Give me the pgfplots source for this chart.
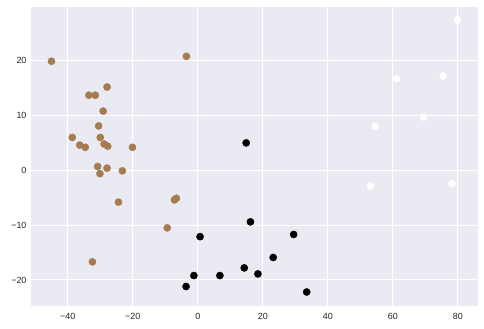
\documentclass[border=0pt]{standalone}
\usepackage{fontspec}
\setmainfont{Liberation Sans}
\usepackage{pgfplots}
\pgfplotsset{compat=1.18}
\definecolor{bgc}{HTML}{EAEAF2}
\definecolor{brownc}{RGB}{166,123,79}
\definecolor{tickc}{HTML}{262626}
\begin{document}
\begin{tikzpicture}
\useasboundingbox (-31bp,-23.3bp) rectangle (453bp,305.7bp);
\begin{axis}[
  scale only axis,
  width=447bp, height=298.7bp,
  xmin=-51.3, xmax=86.2, ymin=-24.7, ymax=29.8,
  axis background/.style={fill=bgc},
  axis line style={draw=none},
  major tick length=0pt,
  grid=major,
  major grid style={white, line width=0.9bp},
  xtick={-40,-20,0,20,40,60,80},
  xticklabels={−40,−20,0,20,40,60,80},
  ytick={-20,-10,0,10,20},
  yticklabels={−20,−10,0,10,20},
  tick label style={font=\fontsize{9}{10}\selectfont, text=tickc},
  xticklabel style={yshift=-4bp},
  yticklabel style={xshift=-1bp},
  clip=false,
]
\addplot[only marks, mark=*, mark size=3.6bp, mark options={fill=brownc, draw=brownc}] coordinates {
(-45.0,19.9) (-3.5,20.8) (-33.5,13.7) (-31.5,13.7) (-27.9,15.2) (-29.1,10.8)
(-30.5,8.1) (-38.6,6.0) (-30.0,6.0) (-36.3,4.6) (-34.6,4.2) (-28.8,4.8)
(-27.7,4.4) (-20.1,4.2) (-30.8,0.7) (-27.9,0.4) (-30.1,-0.6) (-23.2,-0.1)
(-24.4,-5.8) (-7.2,-5.4) (-6.6,-5.1) (-9.4,-10.5) (-32.4,-16.7)
};
\addplot[only marks, mark=*, mark size=3.6bp, mark options={fill=black, draw=black}] coordinates {
(0.7,-12.1) (-1.2,-19.2) (-3.6,-21.2) (6.8,-19.2) (14.3,-17.8) (16.2,-9.4)
(29.5,-11.7) (23.2,-15.9) (18.5,-18.9) (33.5,-22.2) (14.9,5.0)
};
\addplot[only marks, mark=*, mark size=3.6bp, mark options={fill=white, draw=white}] coordinates {
(79.9,27.4) (61.2,16.7) (75.5,17.2) (69.5,9.7) (54.6,8.0) (53.1,-2.9) (78.2,-2.4)
};
\end{axis}
\end{tikzpicture}
\end{document}
